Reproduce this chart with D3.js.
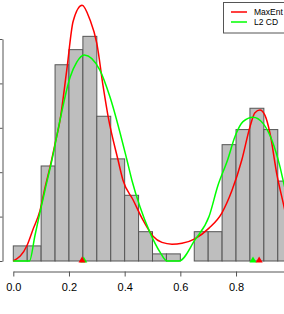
<!DOCTYPE html>
<html><head><meta charset="utf-8">
<script src="https://cdn.jsdelivr.net/npm/d3@7"></script>
<style>body{margin:0;background:#fff}svg{display:block}</style>
</head><body>
<svg id="c" width="284" height="314"></svg>
<script>
// Histogram bins (start of each 0.05-wide bin) and densities
const binStarts = [0, 0.05, 0.10, 0.15, 0.20, 0.25, 0.30, 0.35, 0.40, 0.45, 0.50, 0.55, 0.60, 0.65, 0.70, 0.75, 0.80, 0.85, 0.90, 0.95];
const binDensity = [0.17, 0.17, 1.07, 2.21, 2.38, 2.53, 1.63, 1.15, 0.74, 0.33, 0.08, 0.08, 0, 0.33, 0.33, 1.31, 1.48, 1.72, 1.48, 0.90];
const binWidth = 0.05;

// MaxEnt density curve
const maxEntX = [0, 0.05, 0.07, 0.096, 0.114, 0.132, 0.15, 0.168, 0.192, 0.215, 0.247, 0.275, 0.30, 0.323, 0.341, 0.376, 0.394, 0.43, 0.466, 0.502, 0.534, 0.57, 0.606, 0.652, 0.703, 0.749, 0.785, 0.821, 0.85, 0.868, 0.886, 0.904, 0.922, 0.947, 0.969, 1.0];
const maxEntY = [0, 0.18, 0.35, 0.57, 0.83, 1.06, 1.32, 1.59, 2.15, 2.70, 2.88, 2.72, 2.45, 1.96, 1.62, 1.14, 0.91, 0.69, 0.46, 0.28, 0.21, 0.19, 0.20, 0.25, 0.37, 0.54, 0.79, 1.14, 1.51, 1.67, 1.70, 1.64, 1.44, 0.97, 0.66, 0.22];

// L2 CD density curve
const l2X = [0, 0.058, 0.078, 0.096, 0.114, 0.139, 0.168, 0.204, 0.228, 0.255, 0.311, 0.347, 0.408, 0.426, 0.455, 0.491, 0.527, 0.552, 0.595, 0.653, 0.703, 0.735, 0.77, 0.796, 0.825, 0.861, 0.897, 0.929, 0.958, 0.969, 1.0];
const l2Y = [0, 0, 0.29, 0.55, 0.80, 1.14, 1.59, 2.07, 2.24, 2.32, 2.15, 1.85, 1.14, 0.91, 0.61, 0.32, 0.10, 0, 0, 0.24, 0.50, 0.85, 1.14, 1.40, 1.57, 1.62, 1.55, 1.36, 1.06, 0.91, 0.49];

// Mode markers
const modeMaxEnt = [0.247, 0.883];
const modeL2 = [0.253, 0.861];

const xTicks = [0, 0.2, 0.4, 0.6, 0.8];
const yTicks = [0, 0.5, 1.0, 1.5, 2.0, 2.5];
const legendLabels = ["MaxEnt", "L2 CD"];
const legendColors = ["#ff0000", "#00ff00"];

const svg = d3.select("#c");
const x = d3.scaleLinear().domain([0, 1]).range([13.3, 291.7]);
const y = d3.scaleLinear().domain([0, 2.5]).range([261, 39]);

// bars
svg.append("g").selectAll("rect").data(binStarts).join("rect")
  .attr("x", d => x(d))
  .attr("width", (d) => x(d + binWidth) - x(d))
  .attr("y", (d, i) => y(binDensity[i]))
  .attr("height", (d, i) => y(0) - y(binDensity[i]))
  .attr("fill", "#bebebe")
  .attr("stroke", "#555")
  .attr("stroke-width", 1);

// curves
const line = d3.line().x(d => x(d[0])).y(d => y(d[1])).curve(d3.curveMonotoneX);
svg.append("path").datum(maxEntX.map((v, i) => [v, maxEntY[i]]))
  .attr("d", line).attr("fill", "none").attr("stroke", legendColors[0]).attr("stroke-width", 1.5);
svg.append("path").datum(l2X.map((v, i) => [v, l2Y[i]]))
  .attr("d", line).attr("fill", "none").attr("stroke", legendColors[1]).attr("stroke-width", 1.5);

// mode triangles
const tri = d3.symbol().type(d3.symbolTriangle).size(22);
svg.append("g").selectAll("path").data(modeL2).join("path")
  .attr("d", tri).attr("transform", d => `translate(${x(d)},${y(0) - 0.5})`).attr("fill", legendColors[1]);
svg.append("g").selectAll("path").data(modeMaxEnt).join("path")
  .attr("d", tri).attr("transform", d => `translate(${x(d)},${y(0) - 0.5})`).attr("fill", legendColors[0]);

// x axis
const gx = svg.append("g").attr("transform", "translate(0,271.5)")
  .call(d3.axisBottom(x).tickValues(xTicks).tickFormat(d3.format(".1f")).tickSize(5).tickSizeOuter(0));
gx.select(".domain").attr("stroke", "#555");
gx.selectAll(".tick line").attr("stroke", "#555");
gx.selectAll("text").attr("y", 19.5).attr("dy", 0)
  .attr("font-family", "Liberation Sans, Arial, sans-serif").attr("font-size", 11).attr("fill", "#000");

// y axis
const gy = svg.append("g").attr("transform", "translate(2.5,0)")
  .call(d3.axisLeft(y).tickValues(yTicks).tickFormat("").tickSize(5).tickSizeOuter(0));
gy.select(".domain").attr("stroke", "#555");
gy.selectAll(".tick line").attr("stroke", "#555");

// legend
const lg = svg.append("g");
lg.append("rect").attr("x", 223.5).attr("y", 2.5).attr("width", 80).attr("height", 30.5)
  .attr("fill", "#fff").attr("stroke", "#555");
legendLabels.forEach((t, i) => {
  const ly = 12 + i * 10;
  lg.append("line").attr("x1", 231).attr("x2", 247).attr("y1", ly).attr("y2", ly)
    .attr("stroke", legendColors[i]).attr("stroke-width", 1.5);
  lg.append("text").attr("x", 254).attr("y", ly + 3).text(t)
    .attr("font-family", "Liberation Sans, Arial, sans-serif").attr("font-size", 8.5).attr("fill", "#000");
});
</script>
</body></html>
